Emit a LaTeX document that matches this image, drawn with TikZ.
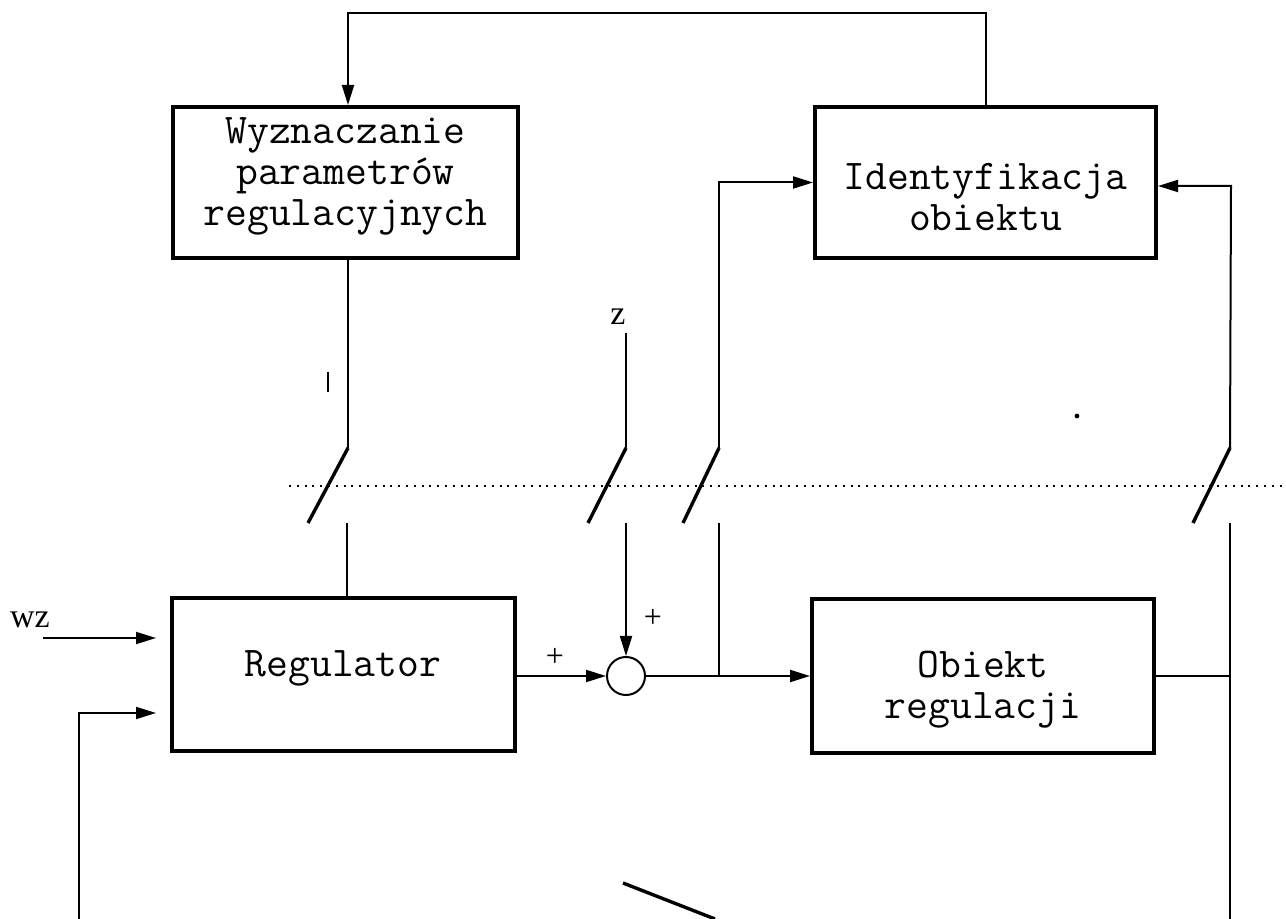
\documentclass[tikz,border=0pt]{standalone}
\usepackage{fontspec}
\setmainfont{Liberation Serif}
\usetikzlibrary{arrows.meta,calc}
\begin{document}
\begin{tikzpicture}[x=0.5pt,y=-0.5pt,
  box/.style={draw,line width=2pt,inner sep=0pt},
  txt/.style={font=\ttfamily\fontsize{21.2pt}{20.5pt}\selectfont,align=center,inner sep=0pt},
  lbl/.style={font=\fontsize{17pt}{17pt}\selectfont,inner sep=0pt},
  plus/.style={font=\fontsize{16pt}{16pt}\selectfont,inner sep=0pt},
  conn/.style={line width=1pt},
  upconn/.style={line width=1.3pt},
  arr/.style={conn,-{Triangle[length=10pt,width=6pt]}},
  swline/.style={line width=1.7pt},
  sumnode/.style={circle,draw,line width=1pt,minimum size=19pt,inner sep=0pt}]
\useasboundingbox (0,0) rectangle (1286,919);
% boxes
\node[box,minimum width=172.5pt,minimum height=75.5pt] (wyz) at (345.5,182.5) {};
\node[box,minimum width=170.5pt,minimum height=75.5pt] (ide) at (985.5,182.5) {};
\node[box,minimum width=171.5pt,minimum height=76.5pt] (reg) at (343.5,674.5) {};
\node[box,minimum width=171pt,minimum height=77pt] (obj) at (983,676) {};
\node[sumnode] (sum) at (626,676) {};
% texts
\node[txt] (wyzt) at (345.5,176) {Wyznaczanie\\parametrów\\regulacyjnych};
\node[txt] (idet) at (985.5,197) {Identyfikacja\\obiektu};
\node[txt] (regt) at (343,668) {Regulator};
\node[txt] (objt) at (983,690) {Obiekt\\regulacji};
\node[lbl] (wz) at (30,620) {wz};
\node[lbl] (zl) at (618,317) {z};
\node[plus] (p1) at (653,618) {+};
\node[plus] (p2) at (555,657) {+};
% top feedback
\coordinate (tl) at (348,13);
\coordinate (tr) at (985.5,13);
\draw[arr] (ide.north) -- (tr) -- (tl) -- (tl |- wyz.north);
% switch 1 (parameters)
\coordinate (s1a) at (348,448);
\coordinate (s1b) at (308,523);
\coordinate (s1c) at (347,523);
\draw[upconn] (wyz.south -| s1a) -- (s1a);
\draw[swline] (s1a) -- (s1b);
\draw[conn] (s1c) -- (reg.north -| s1c);
\coordinate (mk1) at (328,372);
\coordinate (mk2) at (328,392);
\draw[conn] (mk1) -- (mk2);
% switch 2 (z)
\coordinate (s2t) at (626,333);
\coordinate (s2a) at (626,448);
\coordinate (s2b) at (588,523);
\coordinate (s2c) at (626,523);
\draw[upconn] (s2t) -- (s2a);
\draw[swline] (s2a) -- (s2b);
\draw[arr] (s2c) -- (sum.north);
% main path
\draw[arr] (reg.east |- sum) -- (sum.west);
\draw[arr] (sum.east) -- (obj.west);
% switch 3 (input to identification)
\coordinate (j1) at (719,676);
\coordinate (s3c) at (719,523);
\coordinate (s3b) at (683,523);
\coordinate (s3a) at (719,448);
\draw[conn] (j1) -- (s3c);
\draw[swline] (s3b) -- (s3a);
\draw[arr] (s3a) |- (ide.west);
% switch 4 (output to identification)
\coordinate (j2) at (1230,676);
\coordinate (bot2) at (1230,919);
\coordinate (s4c) at (1230,523);
\coordinate (s4b) at (1193,523);
\coordinate (s4a) at (1230,448);
\coordinate (s4t) at (1231,186);
\draw[conn] (obj.east) -- (j2);
\draw[conn] (s4c) -- (bot2);
\draw[swline] (s4b) -- (s4a);
\draw[arr] (s4a) -- (s4t) -- (s4t -| ide.east);
% inputs to regulator
\coordinate (wzs) at (43,638);
\draw[arr,shorten >=7pt] (wzs) -- (wzs -| reg.west);
\coordinate (bl) at (79,919);
\coordinate (blc) at (79,713);
\draw[arr,shorten >=7pt] (bl) -- (blc) -- (blc -| reg.west);
% bottom diagonal
\coordinate (d1) at (623,883);
\coordinate (d2) at (715,919);
\draw[swline] (d1) -- (d2);
% dotted line
\coordinate (dl) at (289,486);
\coordinate (dr) at (1286,486);
\draw[line width=1pt,dash pattern=on 1pt off 2.9pt] (dl) -- (dr);
% speck
\fill (1077,416) circle (1.2pt);
\end{tikzpicture}
\end{document}
